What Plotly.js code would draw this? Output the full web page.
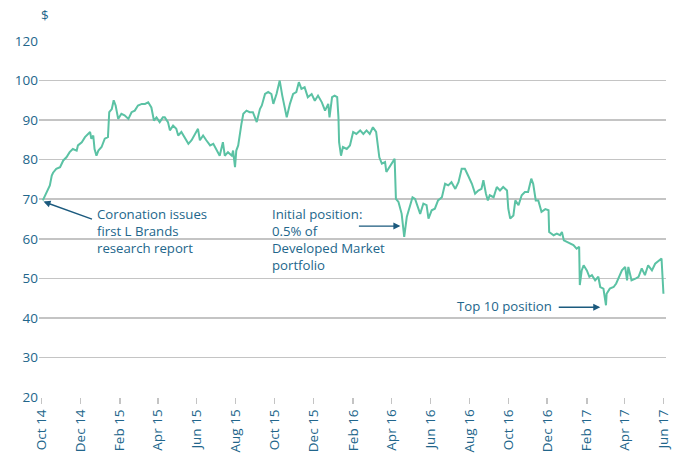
<!DOCTYPE html>
<html>
<head>
<meta charset="utf-8">
<script src="https://cdn.plot.ly/plotly-3.0.1.min.js"></script>
<style>html,body{margin:0;padding:0;background:#fff;}#chart{width:681px;height:457px;}</style>
</head>
<body>
<div id="chart"></div>
<script>
const dates = ['2014-10-03','2014-10-09','2014-10-14','2014-10-17','2014-10-19','2014-10-24','2014-10-30','2014-11-04','2014-11-09','2014-11-14','2014-11-19','2014-11-25','2014-11-27','2014-12-03','2014-12-08','2014-12-16','2014-12-18','2014-12-21','2014-12-23','2014-12-26','2014-12-29','2015-01-03','2015-01-08','2015-01-13','2015-01-15','2015-01-19','2015-01-22','2015-01-25','2015-01-29','2015-02-03','2015-02-08','2015-02-14','2015-02-19','2015-02-24','2015-03-01','2015-03-07','2015-03-12','2015-03-17','2015-03-22','2015-03-26','2015-03-30','2015-04-04','2015-04-09','2015-04-12','2015-04-17','2015-04-20','2015-04-25','2015-04-30','2015-05-03','2015-05-08','2015-05-13','2015-05-19','2015-05-24','2015-05-29','2015-06-03','2015-06-06','2015-06-11','2015-06-16','2015-06-22','2015-06-27','2015-07-02','2015-07-07','2015-07-12','2015-07-15','2015-07-20','2015-07-26','2015-07-28','2015-07-31','2015-08-02','2015-08-05','2015-08-10','2015-08-13','2015-08-18','2015-08-23','2015-08-28','2015-09-03','2015-09-08','2015-09-11','2015-09-16','2015-09-21','2015-09-26','2015-09-29','2015-10-04','2015-10-09','2015-10-13','2015-10-17','2015-10-20','2015-10-25','2015-10-30','2015-11-04','2015-11-08','2015-11-12','2015-11-17','2015-11-22','2015-11-28','2015-12-03','2015-12-08','2015-12-14','2015-12-19','2015-12-24','2015-12-26','2015-12-30','2016-01-03','2016-01-07','2016-01-09','2016-01-10','2016-01-13','2016-01-16','2016-01-22','2016-01-27','2016-02-01','2016-02-06','2016-02-12','2016-02-17','2016-02-22','2016-02-27','2016-03-03','2016-03-08','2016-03-10','2016-03-13','2016-03-17','2016-03-22','2016-03-24','2016-03-30','2016-04-01','2016-04-06','2016-04-08','2016-04-12','2016-04-17','2016-04-21','2016-04-25','2016-04-30','2016-05-04','2016-05-08','2016-05-13','2016-05-16','2016-05-21','2016-05-26','2016-05-29','2016-06-03','2016-06-08','2016-06-13','2016-06-19','2016-06-24','2016-06-29','2016-07-04','2016-07-10','2016-07-15','2016-07-20','2016-07-25','2016-07-30','2016-08-05','2016-08-10','2016-08-15','2016-08-20','2016-08-23','2016-08-27','2016-08-30','2016-09-02','2016-09-08','2016-09-13','2016-09-18','2016-09-23','2016-09-29','2016-10-01','2016-10-04','2016-10-09','2016-10-12','2016-10-17','2016-10-22','2016-10-27','2016-11-01','2016-11-06','2016-11-09','2016-11-13','2016-11-17','2016-11-22','2016-11-28','2016-12-03','2016-12-04','2016-12-11','2016-12-16','2016-12-21','2016-12-24','2016-12-27','2017-01-01','2017-01-06','2017-01-11','2017-01-16','2017-01-20','2017-01-21','2017-01-24','2017-01-27','2017-02-01','2017-02-05','2017-02-09','2017-02-14','2017-02-19','2017-02-22','2017-02-27','2017-03-03','2017-03-04','2017-03-09','2017-03-15','2017-03-19','2017-03-23','2017-03-28','2017-04-02','2017-04-05','2017-04-07','2017-04-12','2017-04-18','2017-04-23','2017-04-28','2017-05-03','2017-05-08','2017-05-14','2017-05-19','2017-05-27','2017-05-29','2017-06-01'];
const prices = [69.7,72.0,73.5,76.0,76.7,77.7,78.1,79.8,80.6,81.9,82.7,82.3,83.6,84.4,85.7,87.0,85.3,86.1,82.7,81.0,82.3,83.2,85.3,85.7,92.0,92.8,95.0,93.7,90.3,91.6,91.2,90.3,92.0,92.4,93.7,94.1,94.1,94.5,93.2,89.9,90.7,89.5,90.7,90.7,89.5,87.4,88.6,87.8,86.1,87.0,85.7,84.0,84.9,86.5,87.8,84.9,86.1,84.9,83.6,84.0,82.3,81.0,84.4,81.0,81.9,81.0,82.3,78.1,82.3,83.6,89.0,91.6,92.4,92.0,92.0,89.5,92.8,93.7,96.6,97.1,96.6,94.1,96.6,100.0,96.2,93.2,90.7,94.1,96.6,97.1,99.6,97.9,98.3,95.8,96.6,94.9,96.2,94.5,92.4,94.1,90.7,95.8,96.2,95.8,90.7,84.4,81.0,83.2,82.7,83.6,87.0,86.5,87.4,86.5,87.4,86.5,88.2,87.0,84.4,80.6,79.0,79.4,76.9,78.5,79.0,80.2,70.1,69.3,66.3,60.5,65.5,68.0,70.5,70.1,68.0,66.3,68.9,68.5,65.1,67.2,67.6,69.7,70.5,73.9,73.5,74.3,72.6,74.3,77.7,77.7,76.0,73.9,71.4,72.2,72.6,74.8,71.4,69.7,71.0,70.5,73.1,72.2,73.1,72.2,67.6,65.1,65.9,69.7,68.5,71.0,71.8,71.8,75.2,73.9,69.7,69.7,66.8,67.5,67.2,61.7,60.9,61.3,60.9,61.7,59.6,59.2,58.8,58.4,57.5,58.0,48.3,52.0,53.3,52.0,50.4,50.8,49.5,50.4,47.8,47.4,43.2,46.1,47.4,47.8,48.7,50.4,52.0,52.9,49.5,52.9,49.5,49.9,50.4,52.5,50.8,53.3,52.0,53.7,54.6,55.0,46.1];
const yTickVals = [20,30,40,50,60,70,80,90,100,110];
const yTickText = ['20','30','40','50','60','70','80','90','100','120'];
const noteCoronation = ['Coronation issues', 'first L Brands', 'research report'];
const noteInitial = ['Initial position:', '0.5% of', 'Developed Market', 'portfolio'];
const noteTop10 = ['Top 10 position'];

const textColor = '#22668b';
const arrowColor = '#1b5a7e';
const font = 'Open Sans, sans-serif';
const noteSize = 13.2;

const trace = {
  x: dates, y: prices, type: 'scatter', mode: 'lines',
  line: {color: '#5bc2a4', width: 2}, hoverinfo: 'skip'
};

// Plot area in pixels: left 39, top 41, width 627, height 356
function px(xp) { return (xp - 39) / 627; }
function py(yp) { return (397 - yp) / 356; }

function note(lines, leftPx, centerPx, anchor) {
  return {
    xref: 'paper', yref: 'paper', x: px(leftPx), y: py(centerPx),
    xanchor: anchor, yanchor: 'middle', align: 'left', text: lines.join('<br>'),
    showarrow: false, borderpad: 0,
    font: {family: font, size: noteSize, color: textColor}
  };
}

const arrows = [
  {x: '2014-10-04', y: 69.4, ax: 50, ay: 18},
  {x: '2016-04-15', y: 63.2, ax: -43, ay: 0},
  {x: '2017-02-22', y: 42.7, ax: -43, ay: 0}
].map(a => Object.assign(a, {
  xref: 'x', yref: 'y', axref: 'pixel', ayref: 'pixel', text: '', showarrow: true,
  arrowhead: 2, arrowsize: 1, arrowwidth: 1.4, arrowcolor: arrowColor, standoff: 0
}));

const layout = {
  width: 681, height: 457,
  margin: {l: 39, r: 15, t: 41, b: 60},
  paper_bgcolor: '#fff', plot_bgcolor: '#fff',
  showlegend: false,
  font: {family: font, color: textColor, size: 13.5},
  xaxis: {
    type: 'date', range: ['2014-09-27', '2017-06-05'],
    tick0: '2014-10-01', dtick: 'M2', tickformat: '%b %y',
    tickangle: -90, showgrid: false, zeroline: false,
    showline: false, ticks: 'outside', ticklen: 6, tickcolor: '#c4c4c4', tickwidth: 1.5,
    tickfont: {family: font, size: 13.5, color: textColor}
  },
  yaxis: {
    range: [20, 110], tickvals: yTickVals, ticktext: yTickText,
    showgrid: true, gridcolor: '#c4c4c4', gridwidth: 1.5, zeroline: false,
    showline: false, ticks: '', tickfont: {family: font, size: 13.5, color: textColor}
  },
  annotations: [
    {xref: 'paper', yref: 'paper', x: 0, y: 1, xanchor: 'left', yanchor: 'middle', yshift: 26,
     text: '$', showarrow: false, font: {family: font, size: 13.5, color: textColor}},
    note(noteCoronation, 96, 231, 'left'),
    note(noteInitial, 271, 239, 'left'),
    note(noteTop10, 553, 306, 'right')
  ].concat(arrows)
};

Plotly.newPlot('chart', [trace], layout, {displayModeBar: false, staticPlot: true});
</script>
</body>
</html>
